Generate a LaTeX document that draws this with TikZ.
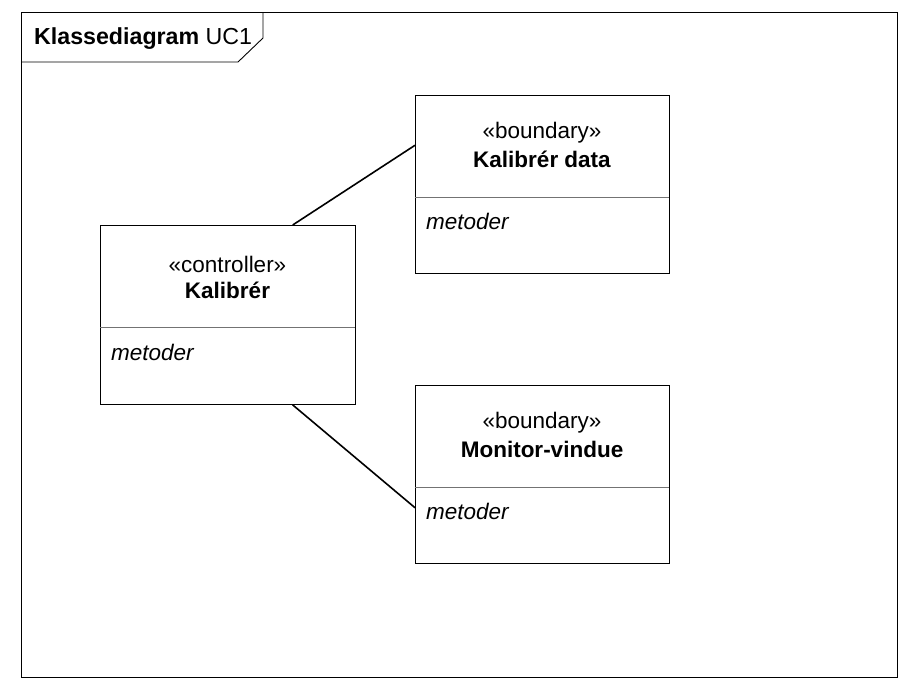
\documentclass[tikz,border=0pt]{standalone}
\usepackage{fontspec}
\setmainfont{Liberation Sans}
\usetikzlibrary{calc}
\tikzset{
  umlbox/.style={draw=black, line width=0.9pt, rectangle, minimum width=254pt, minimum height=178pt, inner sep=0pt, anchor=north west},
  divider/.style={draw=black!55, line width=0.8pt},
  stereo/.style={font=\fontsize{22.5}{26}\selectfont, inner sep=0pt, anchor=center},
  cname/.style={font=\fontsize{22.5}{26}\selectfont\bfseries, inner sep=0pt, anchor=center},
  meth/.style={font=\fontsize{22.5}{26}\selectfont\itshape, inner sep=0pt, anchor=west},
  assoc/.style={draw=black, line width=1.6pt},
  framel/.style={draw=black, line width=0.9pt}
}
\begin{document}
\begin{tikzpicture}[x=1pt,y=-1pt]
\useasboundingbox (0,0) rectangle (916,694);
% frame
\node[framel, rectangle, minimum width=876pt, minimum height=665pt, inner sep=0pt, anchor=north west] (frame) at (21,12) {};
\draw[framel] (21,62) -- (238,62) -- (263,38) -- (263,12);
\node[inner sep=0pt, anchor=west, font=\fontsize{23.2}{28}\selectfont] (title) at (34,39) {\textbf{Klassediagram} UC1};
% boxes
\node[umlbox, minimum width=255pt, minimum height=179pt] (ctrl) at (100,225) {};
\draw[divider] (100,327) -- (355,327);
\node[stereo] (ctrlst) at (227.5,264) {«controller»};
\node[cname] (ctrlnm) at (227.5,290) {Kalibrér};
\node[meth] (ctrlm) at (111,352) {metoder};

\node[umlbox] (data) at (415,95) {};
\draw[divider] (415,197) -- (669,197);
\node[stereo] (datast) at (542,133) {«boundary»};
\node[cname] (datanm) at (542,159) {Kalibrér data};
\node[meth] (datam) at (426,221) {metoder};

\node[umlbox] (mon) at (415,385) {};
\draw[divider] (415,487) -- (669,487);
\node[stereo] (monst) at (542,423) {«boundary»};
\node[cname] (monnm) at (542,449) {Monitor-vindue};
\node[meth] (monm) at (426,511) {metoder};
% connectors
\coordinate (c1) at ($(ctrl.north west)!0.753!(ctrl.north east)$);
\coordinate (d1) at ($(data.north west)!0.281!(data.south west)$);
\coordinate (c2) at ($(ctrl.south west)!0.753!(ctrl.south east)$);
\coordinate (m2) at ($(mon.north west)!0.686!(mon.south west)$);
\draw[assoc] (c1) -- (d1);
\draw[assoc] (c2) -- (m2);
\end{tikzpicture}
\end{document}
